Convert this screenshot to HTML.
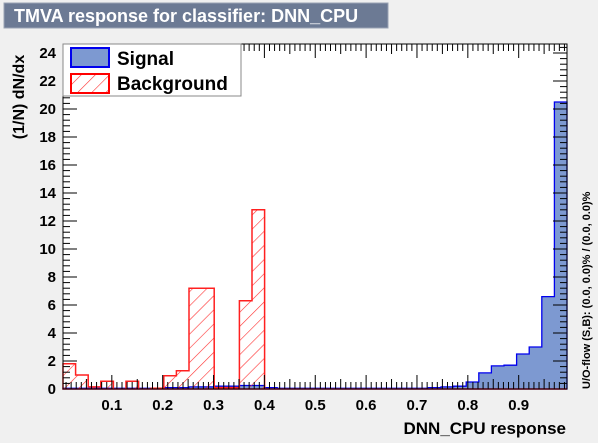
<!DOCTYPE html>
<html><head><meta charset="utf-8"><style>
body{margin:0;background:#f0f0f0;}
svg{display:block;font-family:"Liberation Sans",sans-serif;font-weight:bold;}
</style></head><body>
<svg id="c" width="598" height="443" viewBox="0 0 598 443">
<defs><pattern id="hatch" patternUnits="userSpaceOnUse" width="10" height="10" patternTransform="rotate(45)"><line x1="0" y1="0" x2="0" y2="10" stroke="#ff3030" stroke-width="1.2"/></pattern></defs>
<rect x="0" y="0" width="598" height="443" fill="#f0f0f0"/>
<rect x="4" y="3" width="384" height="25" fill="#6c7a94" stroke="#9aa3b3"/>
<text x="14" y="22" fill="#fff" font-size="18">TMVA response for classifier: DNN_CPU</text>
<rect x="63" y="44" width="504" height="345" fill="#fff"/>
<g id="bars"></g>
<g id="axes"></g>
<rect x="63" y="44" width="504" height="345" fill="none" stroke="#000"/>
<g>
<rect x="63" y="44" width="178" height="52" fill="#fff" stroke="#888"/>
<rect x="71" y="48" width="38" height="19" fill="#7d99d1" stroke="#0000ee" stroke-width="2"/>
<text x="117" y="65" font-size="19">Signal</text>
<rect x="71" y="74" width="38" height="19" fill="url(#hatch)" stroke="#ff0000" stroke-width="2"/>
<text x="117" y="90" font-size="19">Background</text>
</g>
<text transform="translate(24,97) rotate(-90)" text-anchor="middle" font-size="16">(1/N) dN/dx</text>
<text x="566" y="434" text-anchor="end" font-size="17">DNN_CPU response</text>
<text transform="translate(590,389) rotate(-90)" font-size="11">U/O-flow (S,B): (0.0, 0.0)% / (0.0, 0.0)%</text>
</svg>
<script>
const xMin = 0.004, xMax = 0.995, nBins = 40;
const signal = [0.05,0.05,0.05,0.05,0.05,0.05,0.05,0.05,0.1,0.1,0.15,0.15,0.2,0.2,0.25,0.25,0.1,0.05,0.05,0.05,0.05,0.05,0.05,0.05,0.05,0.05,0.05,0.05,0.05,0.1,0.15,0.2,0.5,1.15,1.65,1.7,2.5,3.0,6.6,20.5];
const background = [1.8,1.0,0.15,0.55,0,0.55,0,0.05,0.95,1.3,7.2,7.2,0.1,0.1,6.3,12.8,0,0,0,0,0,0,0,0,0,0,0,0,0,0,0,0,0,0,0,0,0,0,0,0];
const yTicks = [0,2,4,6,8,10,12,14,16,18,20,22,24];
const xTicks = [0.1,0.2,0.3,0.4,0.5,0.6,0.7,0.8,0.9];
const L=63,R=567,B=389,T=44;
const sx = v => L + (v - xMin) / (xMax - xMin) * (R - L);
const sy = v => B - v * 14;
const NS="http://www.w3.org/2000/svg";
function mk(tag, attrs, parent){const e=document.createElementNS(NS,tag);for(const k in attrs)e.setAttribute(k,attrs[k]);parent.appendChild(e);return e;}
const bars=document.getElementById('bars'), axes=document.getElementById('axes');
const bw=(xMax-xMin)/nBins;
function stepPath(vals){
  let d='M'+sx(xMin)+','+sy(0);
  vals.forEach((v,i)=>{const x0=sx(xMin+i*bw),x1=sx(xMin+(i+1)*bw);d+=' L'+x0+','+sy(v)+' L'+x1+','+sy(v);});
  d+=' L'+sx(xMax)+','+sy(0)+' Z';return d;
}
const sp=mk('path',{d:stepPath(signal),fill:'#7d99d1',stroke:'#0000ee','stroke-width':1.3},bars);


const bp=mk('path',{d:stepPath(background),fill:'url(#hatch)',stroke:'#ff2020','stroke-width':1.5},bars);


for(let v=0;v<=24.6;v+=0.4){
  const y=sy(v);const major=Math.abs(v/2-Math.round(v/2))<1e-6;const len=major?14:7;
  mk('line',{x1:L,x2:L+len,y1:y,y2:y,stroke:'#000'},axes);
  mk('line',{x1:R,x2:R-len,y1:y,y2:y,stroke:'#000'},axes);
}
yTicks.forEach(v=>{const t=mk('text',{x:56,y:sy(v)+5,'text-anchor':'end','font-size':15},axes);t.textContent=v;

});
for(let i=1;i<=99;i++){
  const v=i/100;if(v<xMin||v>xMax)continue;const x=sx(v);const major=i%10==0;const len=major?14:(i%5==0?10:7);
  mk('line',{x1:x,x2:x,y1:B,y2:B-len,stroke:'#000'},axes);
  mk('line',{x1:x,x2:x,y1:T,y2:T+len,stroke:'#000'},axes);
}
xTicks.forEach(v=>{const t=mk('text',{x:sx(v),y:410,'text-anchor':'middle','font-size':15},axes);t.textContent=v.toFixed(1);

});
</script>
</body></html>
